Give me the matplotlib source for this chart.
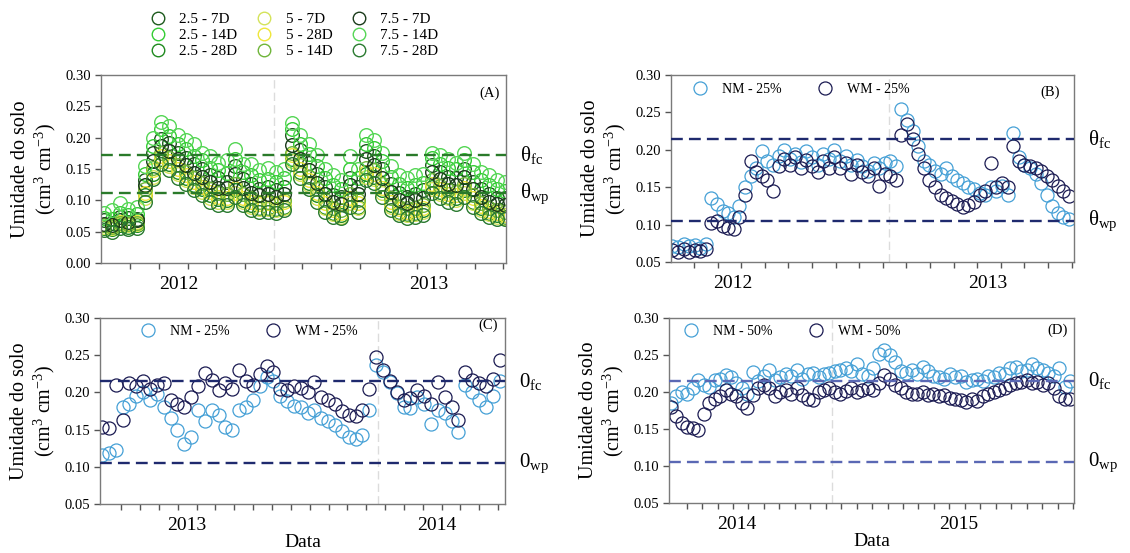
import pandas as pd
import matplotlib
matplotlib.use('Agg')
import matplotlib.pyplot as plt
import matplotlib.dates as mdates
import matplotlib.transforms as mtransforms
from matplotlib.ticker import FixedLocator, FixedFormatter, MultipleLocator, FormatStrFormatter

plt.rcParams['font.family'] = 'Liberation Serif'
plt.rcParams['mathtext.fontset'] = 'custom'
plt.rcParams['mathtext.rm'] = 'Liberation Serif'
plt.rcParams['mathtext.it'] = 'Liberation Serif:italic'
plt.rcParams['mathtext.bf'] = 'Liberation Serif:bold'

# ---- (A) soil moisture by depth / irrigation interval, sampled every 12 days
a_dates = pd.date_range('2011-09-13', periods=50, freq='12D')
a_labels = ['2.5 - 7D', '2.5 - 14D', '2.5 - 28D', '5 - 7D', '5 - 28D', '5 - 14D',
            '7.5 - 7D', '7.5 - 14D', '7.5 - 28D']
a_colors = ['#1d5a1d', '#33cc33', '#1f8a1f', '#d4e35a', '#efe63a', '#6fb53a',
            '#1b3b1b', '#55d655', '#2a7a30']

s_25_7 = [0.068, 0.064, 0.074, 0.072, 0.071, 0.132, 0.176, 0.198, 0.192, 0.176,
          0.168, 0.158, 0.150, 0.140, 0.136, 0.130, 0.154, 0.134, 0.126, 0.118,
          0.122, 0.116, 0.122, 0.204, 0.180, 0.160, 0.142, 0.122, 0.108, 0.106,
          0.136, 0.122, 0.178, 0.170, 0.150, 0.126, 0.112, 0.106, 0.110, 0.116,
          0.156, 0.146, 0.138, 0.136, 0.150, 0.130, 0.118, 0.110, 0.104, 0.104]
s_25_14 = [0.072, 0.070, 0.080, 0.077, 0.078, 0.142, 0.186, 0.214, 0.202, 0.190,
           0.182, 0.170, 0.165, 0.152, 0.148, 0.144, 0.166, 0.145, 0.140, 0.133,
           0.134, 0.130, 0.135, 0.214, 0.190, 0.174, 0.154, 0.136, 0.124, 0.118,
           0.150, 0.136, 0.190, 0.184, 0.162, 0.138, 0.126, 0.120, 0.124, 0.128,
           0.168, 0.158, 0.152, 0.150, 0.165, 0.145, 0.132, 0.124, 0.118, 0.115]
s_25_28 = [0.056, 0.054, 0.060, 0.058, 0.061, 0.108, 0.142, 0.166, 0.158, 0.146,
           0.136, 0.125, 0.118, 0.108, 0.102, 0.100, 0.116, 0.100, 0.093, 0.088,
           0.088, 0.086, 0.090, 0.166, 0.146, 0.128, 0.108, 0.090, 0.080, 0.076,
           0.100, 0.090, 0.142, 0.138, 0.116, 0.093, 0.082, 0.078, 0.080, 0.084,
           0.122, 0.113, 0.106, 0.103, 0.116, 0.098, 0.087, 0.080, 0.076, 0.074]
s_5_7 = [0.058, 0.056, 0.062, 0.060, 0.062, 0.104, 0.138, 0.162, 0.154, 0.142,
         0.132, 0.122, 0.114, 0.104, 0.098, 0.097, 0.112, 0.097, 0.090, 0.086,
         0.086, 0.084, 0.088, 0.162, 0.142, 0.124, 0.104, 0.088, 0.078, 0.074,
         0.096, 0.088, 0.138, 0.134, 0.112, 0.090, 0.080, 0.076, 0.078, 0.081,
         0.118, 0.110, 0.103, 0.100, 0.112, 0.095, 0.084, 0.078, 0.074, 0.072]
s_5_28 = [0.061, 0.059, 0.066, 0.064, 0.065, 0.112, 0.148, 0.170, 0.162, 0.150,
          0.140, 0.130, 0.122, 0.113, 0.106, 0.104, 0.120, 0.104, 0.098, 0.094,
          0.095, 0.093, 0.097, 0.172, 0.150, 0.132, 0.112, 0.095, 0.084, 0.080,
          0.104, 0.096, 0.146, 0.142, 0.120, 0.098, 0.086, 0.082, 0.084, 0.088,
          0.126, 0.118, 0.110, 0.108, 0.120, 0.103, 0.091, 0.083, 0.079, 0.077]
s_5_14 = [0.060, 0.058, 0.064, 0.063, 0.064, 0.118, 0.152, 0.176, 0.168, 0.156,
          0.146, 0.136, 0.128, 0.118, 0.112, 0.110, 0.126, 0.110, 0.103, 0.098,
          0.098, 0.096, 0.100, 0.176, 0.156, 0.138, 0.118, 0.100, 0.088, 0.085,
          0.110, 0.100, 0.152, 0.148, 0.126, 0.103, 0.090, 0.087, 0.088, 0.093,
          0.132, 0.123, 0.116, 0.113, 0.126, 0.108, 0.096, 0.088, 0.085, 0.082]
s_75_7 = [0.062, 0.060, 0.068, 0.065, 0.068, 0.125, 0.163, 0.186, 0.178, 0.166,
          0.156, 0.144, 0.138, 0.130, 0.120, 0.120, 0.142, 0.120, 0.112, 0.108,
          0.110, 0.106, 0.110, 0.188, 0.166, 0.148, 0.128, 0.110, 0.098, 0.094,
          0.124, 0.110, 0.166, 0.156, 0.136, 0.114, 0.100, 0.096, 0.100, 0.103,
          0.145, 0.134, 0.126, 0.124, 0.138, 0.118, 0.106, 0.098, 0.094, 0.092]
s_75_14 = [0.080, 0.084, 0.095, 0.086, 0.090, 0.155, 0.200, 0.225, 0.218, 0.205,
           0.196, 0.190, 0.176, 0.170, 0.160, 0.165, 0.182, 0.158, 0.158, 0.148,
           0.152, 0.145, 0.150, 0.224, 0.205, 0.190, 0.172, 0.150, 0.140, 0.132,
           0.170, 0.150, 0.205, 0.196, 0.175, 0.155, 0.140, 0.136, 0.140, 0.142,
           0.176, 0.172, 0.166, 0.160, 0.176, 0.158, 0.146, 0.140, 0.132, 0.130]
s_75_28 = [0.052, 0.050, 0.056, 0.054, 0.056, 0.098, 0.134, 0.158, 0.148, 0.136,
           0.126, 0.116, 0.108, 0.098, 0.093, 0.092, 0.106, 0.092, 0.085, 0.082,
           0.082, 0.080, 0.084, 0.158, 0.136, 0.118, 0.098, 0.082, 0.074, 0.072,
           0.090, 0.082, 0.132, 0.128, 0.106, 0.085, 0.076, 0.072, 0.074, 0.077,
           0.112, 0.104, 0.097, 0.094, 0.106, 0.090, 0.080, 0.074, 0.071, 0.070]
a_series = [s_25_7, s_25_14, s_25_28, s_5_7, s_5_28, s_5_14, s_75_7, s_75_14, s_75_28]

# ---- (B) NM / WM 25 %, every 8 days
b_dates = pd.date_range('2011-10-07', periods=72, freq='8D')
b_nm = [0.072, 0.070, 0.074, 0.071, 0.073, 0.069, 0.074, 0.135, 0.128, 0.118,
        0.115, 0.110, 0.125, 0.150, 0.165, 0.175, 0.198, 0.185, 0.180, 0.192,
        0.200, 0.188, 0.195, 0.184, 0.198, 0.190, 0.180, 0.194, 0.188, 0.200,
        0.185, 0.192, 0.180, 0.186, 0.178, 0.172, 0.182, 0.176, 0.182, 0.185,
        0.178, 0.255, 0.240, 0.225, 0.205, 0.185, 0.180, 0.172, 0.168, 0.175,
        0.165, 0.160, 0.155, 0.150, 0.148, 0.142, 0.140, 0.150, 0.145, 0.152,
        0.140, 0.222, 0.190, 0.180, 0.175, 0.168, 0.155, 0.140, 0.125, 0.115,
        0.110, 0.108]
b_wm = [0.066, 0.064, 0.067, 0.063, 0.066, 0.065, 0.068, 0.102, 0.105, 0.098,
        0.096, 0.094, 0.110, 0.140, 0.185, 0.170, 0.165, 0.160, 0.145, 0.178,
        0.188, 0.180, 0.190, 0.176, 0.186, 0.178, 0.170, 0.185, 0.176, 0.190,
        0.175, 0.182, 0.168, 0.180, 0.170, 0.165, 0.175, 0.152, 0.168, 0.165,
        0.160, 0.220, 0.235, 0.215, 0.195, 0.175, 0.160, 0.150, 0.140, 0.135,
        0.132, 0.128, 0.124, 0.126, 0.130, 0.140, 0.145, 0.182, 0.150, 0.155,
        0.150, 0.205, 0.185, 0.180, 0.178, 0.176, 0.172, 0.165, 0.160, 0.152,
        0.145, 0.138]

# ---- (C) NM / WM 25 %, every 10 days
c_dates = pd.date_range('2012-08-30', periods=59, freq='10D')
c_nm = [0.116, 0.118, 0.123, 0.180, 0.185, 0.195, 0.200, 0.190, 0.198, 0.180,
        0.165, 0.150, 0.130, 0.140, 0.176, 0.161, 0.176, 0.170, 0.154, 0.149,
        0.176, 0.180, 0.190, 0.208, 0.221, 0.215, 0.195, 0.188, 0.182, 0.180,
        0.172, 0.176, 0.165, 0.162, 0.156, 0.148, 0.140, 0.138, 0.143, 0.176,
        0.237, 0.228, 0.214, 0.199, 0.180, 0.179, 0.194, 0.185, 0.158, 0.176,
        0.172, 0.161, 0.147, 0.210, 0.201, 0.190, 0.180, 0.195, 0.215]
c_wm = [0.154, 0.152, 0.210, 0.163, 0.212, 0.208, 0.215, 0.205, 0.210, 0.212,
        0.190, 0.185, 0.180, 0.194, 0.208, 0.226, 0.217, 0.203, 0.212, 0.205,
        0.230, 0.215, 0.210, 0.225, 0.235, 0.228, 0.205, 0.203, 0.208, 0.206,
        0.201, 0.214, 0.194, 0.190, 0.185, 0.175, 0.170, 0.168, 0.176, 0.205,
        0.248, 0.230, 0.215, 0.200, 0.190, 0.192, 0.203, 0.195, 0.185, 0.214,
        0.194, 0.181, 0.163, 0.228, 0.217, 0.212, 0.208, 0.218, 0.243]

# ---- (D) NM / WM 50 %, every 9 days
d_dates = pd.date_range('2013-09-14', periods=74, freq='9D')
d_nm = [0.185, 0.194, 0.200, 0.198, 0.205, 0.216, 0.210, 0.207, 0.216, 0.218,
        0.223, 0.220, 0.212, 0.205, 0.198, 0.227, 0.215, 0.222, 0.230, 0.216,
        0.220, 0.225, 0.222, 0.230, 0.218, 0.224, 0.226, 0.220, 0.224, 0.226,
        0.228, 0.230, 0.232, 0.228, 0.238, 0.225, 0.222, 0.232, 0.252, 0.257,
        0.250, 0.240, 0.228, 0.226, 0.230, 0.225, 0.234, 0.228, 0.222, 0.220,
        0.218, 0.224, 0.220, 0.222, 0.214, 0.216, 0.218, 0.215, 0.222, 0.220,
        0.226, 0.224, 0.232, 0.234, 0.228, 0.230, 0.238, 0.232, 0.230, 0.226,
        0.222, 0.232, 0.207, 0.215]
d_wm = [0.180, 0.167, 0.158, 0.153, 0.151, 0.149, 0.170, 0.185, 0.190, 0.195,
        0.203, 0.198, 0.194, 0.185, 0.178, 0.196, 0.205, 0.209, 0.206, 0.194,
        0.200, 0.203, 0.198, 0.205, 0.196, 0.190, 0.189, 0.200, 0.203, 0.205,
        0.200, 0.198, 0.202, 0.206, 0.200, 0.203, 0.205, 0.203, 0.212, 0.223,
        0.218, 0.210, 0.206, 0.200, 0.198, 0.197, 0.200, 0.196, 0.198, 0.194,
        0.196, 0.192, 0.190, 0.189, 0.186, 0.190, 0.188, 0.195, 0.198, 0.200,
        0.203, 0.205, 0.210, 0.212, 0.214, 0.216, 0.212, 0.214, 0.210, 0.212,
        0.205, 0.195, 0.190, 0.190]

# field capacity / wilting point
theta_a = (0.173, 0.111)
theta_bcd = (0.215, 0.105)

NM_COLOR = '#45a0d6'
WM_COLOR = '#1b1b52'
ylab = 'Umidade do solo\n(cm$^{3}$ cm$^{-3}$)'

fig = plt.figure(figsize=(11.3, 5.53), dpi=100)
ax_a = fig.add_axes([0.0894, 0.5244, 0.3584, 0.340])
ax_b = fig.add_axes([0.5938, 0.5262, 0.3566, 0.3382])
ax_c = fig.add_axes([0.0885, 0.0886, 0.3584, 0.3363])
ax_d = fig.add_axes([0.5920, 0.0904, 0.3584, 0.3345])


def style_panel(ax, x0, x1, tick0, tick_step, years, ymin, gray_day):
    ax.axvline(pd.Timestamp(gray_day), color='#dcdcdc', lw=1.0, ls=(0, (6, 3)), zorder=0)
    ax.set_xlim(pd.Timestamp(x0), pd.Timestamp(x1))
    ax.set_ylim(ymin, 0.30)
    ax.yaxis.set_major_locator(MultipleLocator(0.05))
    ax.yaxis.set_major_formatter(FormatStrFormatter('%.2f'))
    yr_pos = mdates.date2num(pd.to_datetime([f'{y}-01-01' for y in years]))
    ax.xaxis.set_major_locator(FixedLocator(yr_pos))
    ax.xaxis.set_major_formatter(FixedFormatter([str(y) for y in years]))
    minor = mdates.date2num(pd.date_range(tick0, x1, freq=tick_step))
    ax.xaxis.set_minor_locator(FixedLocator(minor))
    ax.tick_params(axis='x', which='major', length=0, pad=9, labelsize=14)
    ax.tick_params(axis='x', which='minor', length=4, width=1, color='#555555')
    ax.tick_params(axis='y', length=4, width=1, color='#555555', labelsize=10.5, pad=3)
    for s in ax.spines.values():
        s.set_color('#7a7a7a')
        s.set_linewidth(1)
    ax.text(-0.165, 0.5, ylab, transform=ax.transAxes, rotation=90, ha='center',
            va='center', fontsize=14.5, multialignment='center', linespacing=1.15)


def theta_lines(ax, vals, color, sym, lw=1.7):
    trans = mtransforms.blended_transform_factory(ax.transAxes, ax.transData)
    for v, sub in zip(vals, ['fc', 'wp']):
        ax.axhline(v, color=color, lw=lw, ls=(0, (5, 2.6)), zorder=3)
        ax.text(1.035, v, rf'$\mathrm{{{sym}}}_{{\mathrm{{{sub}}}}}$', transform=trans,
                ha='left', va='center', fontsize=15)


# (A)
for vals, lab, col in zip(a_series, a_labels, a_colors):
    ax_a.plot(a_dates, vals, 'o', mfc='none', mec=col, ms=9.8, mew=1.0, label=lab)
theta_lines(ax_a, theta_a, '#2a7a2a', r'\theta')
style_panel(ax_a, '2011-09-09', '2013-04-24', '2011-10-22', '42D', [2012, 2013], 0.0,
            '2012-05-19')
ax_a.text(0.985, 0.905, '(A)', transform=ax_a.transAxes, ha='right', va='center', fontsize=10.5)
fig.legend(*ax_a.get_legend_handles_labels(), loc='upper left', bbox_to_anchor=(0.133, 0.978),
           ncol=3, frameon=False, fontsize=11, handlelength=1.0, handletextpad=0.9,
           columnspacing=1.25, labelspacing=0.17, borderpad=0, borderaxespad=0,
           markerscale=0.92)

# (B), (C), (D)
panels = [
    (ax_b, b_dates, b_nm, b_wm, '25%', '#1f2a6e', r'\theta', '(B)',
     ('2011-10-05', '2013-05-04', '2011-11-07', '811h', [2012, 2013], '2012-08-12'),
     (0.055, 0.957), (0.965, 0.91)),
    (ax_c, c_dates, c_nm, c_wm, '25%', '#1f2a6e', '0', '(C)',
     ('2012-08-27', '2014-04-10', '2012-09-27', '660h', [2013, 2014], '2013-10-06'),
     (0.101, 0.962), (0.983, 0.962)),
    (ax_d, d_dates, d_nm, d_wm, '50%', '#5a68b4', '0', '(D)',
     ('2013-09-11', '2015-07-09', '2013-10-10', '610h', [2014, 2015], '2014-06-06'),
     (0.037, 0.962), (0.985, 0.935)),
]
for ax, dates, nm, wm, pct, lcol, sym, tag, xs, leg_xy, tag_xy in panels:
    ax.plot(dates, nm, 'o', mfc='none', mec=NM_COLOR, ms=9.4, mew=0.9, label=f'NM - {pct}')
    ax.plot(dates, wm, 'o', mfc='none', mec=WM_COLOR, ms=9.4, mew=0.9, label=f'WM - {pct}')
    theta_lines(ax, theta_bcd, lcol, sym)
    style_panel(ax, xs[0], xs[1], xs[2], xs[3], xs[4], 0.05, xs[5])
    ax.text(tag_xy[0], tag_xy[1], tag, transform=ax.transAxes, ha='right', va='center',
            fontsize=10.5)
    ax.legend(loc='upper left', bbox_to_anchor=leg_xy, ncol=2, frameon=False, fontsize=10,
              handlelength=1.0, handletextpad=1.1, columnspacing=2.6, borderpad=0,
              borderaxespad=0)

for ax in (ax_c, ax_d):
    ax.set_xlabel('Data', fontsize=14, labelpad=0)

fig.savefig('out.png', dpi=100)
